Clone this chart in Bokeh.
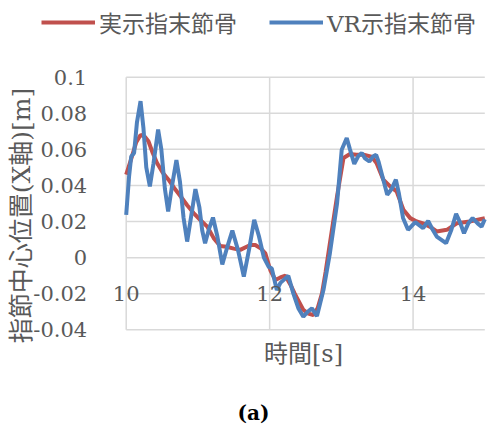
import math
from bokeh.plotting import figure
from bokeh.models import FixedTicker, Legend, LegendItem, Label, Range1d
from bokeh.embed import file_html
from bokeh.resources import INLINE

# ---- data ----
red_t = [10.00, 10.08, 10.14, 10.20, 10.26, 10.31, 10.37, 10.43, 10.51, 10.59, 10.68, 10.76,
         10.85, 10.94, 11.03, 11.13, 11.22, 11.31, 11.40, 11.50, 11.59, 11.73, 11.80, 11.88,
         11.94, 12.01, 12.08, 12.15, 12.22, 12.29, 12.35, 12.47, 12.54, 12.61, 12.67, 12.73,
         12.78, 12.84, 12.94, 13.03, 13.12, 13.21, 13.31, 13.42, 13.49, 13.585, 13.68, 13.77,
         13.865, 13.96, 14.05, 14.14, 14.24, 14.33, 14.47, 14.61, 14.79, 15.00]
red_v = [0.046, 0.056, 0.064, 0.068, 0.067, 0.0645, 0.058, 0.0524, 0.047, 0.0432, 0.038, 0.0339,
         0.029, 0.0247, 0.021, 0.0172, 0.0108, 0.0065, 0.006, 0.005, 0.0043, 0.007, 0.007, 0.005,
         0.0024, -0.007, -0.0124, -0.011, -0.010, -0.015, -0.020, -0.029, -0.031, -0.0318, -0.028, -0.0198,
         -0.008, 0.008, 0.034, 0.0552, 0.0574, 0.057, 0.057, 0.056, 0.0524, 0.0432, 0.0395, 0.0367,
         0.0265, 0.0219, 0.020, 0.019, 0.017, 0.0145, 0.0154, 0.019, 0.020, 0.0219]

blue_t = [10.00, 10.04, 10.07, 10.11, 10.15, 10.20, 10.24, 10.28, 10.33, 10.38, 10.445, 10.49,
          10.54, 10.585, 10.64, 10.70, 10.75, 10.80, 10.85, 10.91, 10.965, 11.02, 11.06, 11.10,
          11.155, 11.21, 11.27, 11.34, 11.41, 11.48, 11.56, 11.64, 11.72, 11.785, 11.85, 11.92,
          11.985, 12.03, 12.10, 12.15, 12.26, 12.33, 12.40, 12.47, 12.53, 12.59, 12.66, 12.70,
          12.75, 12.84, 12.94, 13.005, 13.075, 13.12, 13.18, 13.24, 13.285, 13.33, 13.39, 13.44,
          13.485, 13.52, 13.56, 13.64, 13.70, 13.76, 13.80, 13.86, 13.93, 14.03, 14.14, 14.21,
          14.28, 14.33, 14.46, 14.53, 14.60, 14.65, 14.71, 14.77, 14.83, 14.90, 14.955, 15.00]
blue_v = [0.0237, 0.045, 0.056, 0.058, 0.075, 0.0867, 0.072, 0.050, 0.0395, 0.052, 0.071, 0.060,
          0.038, 0.0256, 0.040, 0.054, 0.042, 0.022, 0.0089, 0.024, 0.038, 0.028, 0.015, 0.008,
          0.016, 0.0222, 0.012, -0.0038, 0.006, 0.015, 0.004, -0.0105, 0.006, 0.021, 0.012, 0.000,
          -0.005, -0.006, -0.018, -0.014, -0.0100, -0.0198, -0.028, -0.0328, -0.030, -0.0281, -0.0324, -0.026,
          -0.018, 0.0024, 0.030, 0.0598, 0.0663, 0.060, 0.0520, 0.0565, 0.058, 0.055, 0.0533, 0.056,
          0.057, 0.053, 0.0469, 0.0348, 0.038, 0.0432, 0.036, 0.022, 0.0154, 0.0197, 0.0163, 0.0204,
          0.015, 0.0117, 0.008, 0.015, 0.0243, 0.020, 0.0135, 0.019, 0.0219, 0.019, 0.0172, 0.0213]

series_names = ["実示指末節骨", "VR示指末節骨"]
series_colors = ["#C0504D", "#4F81BD"]
y_ticks = [-0.04, -0.02, 0, 0.02, 0.04, 0.06, 0.08, 0.1]
y_tick_labels = ["-0.04", "-0.02", "0", "0.02", "0.04", "0.06", "0.08", "0.1"]
x_ticks = [10, 12, 14]
x_tick_labels = ["10", "12", "14"]
x_title = "時間[s]"
y_title = "指節中心位置(X軸)[m]"
caption = "(a)"

FONT = "'DejaVu Serif', 'Noto Sans CJK JP'"
TXT = "#595959"
GRID = "#d9d9d9"

# ---- layout (pixels inside the canvas) ----
W, H = 487, 432
X0, X1 = 10.0, 15.0          # data span of the plotting area
Y0, Y1 = -0.04, 0.1
PL, PR = 125.7, 484.3        # plot area left/right (px)
PT, PB = 76.7, 329.3         # plot area top/bottom (px)
sx = (PR - PL) / (X1 - X0)
sy = (PB - PT) / (Y1 - Y0)
xr = Range1d(X0 - PL / sx, X1 + (W - PR) / sx)
yr = Range1d(Y0 - (H - PB) / sy, Y1 + PT / sy)

def px_to_x(px):
    return xr.start + px / sx

def py_to_y(py):
    return yr.end - py / sy

p = figure(width=W, height=H, output_backend="svg", toolbar_location=None,
           x_range=xr, y_range=yr, min_border=0)
p.min_border_left = p.min_border_right = p.min_border_top = p.min_border_bottom = 0
p.outline_line_color = None
p.background_fill_color = "white"
p.grid.visible = False

# grid lines of the plotting area
p.segment(x0=x_ticks, y0=[Y0] * len(x_ticks), x1=x_ticks, y1=[Y1] * len(x_ticks),
          line_color=GRID, line_width=1.5)
p.segment(x0=[X0] * len(y_ticks), y0=y_ticks, x1=[X1] * len(y_ticks), y1=y_ticks,
          line_color=GRID, line_width=1.5)

# value axis (labels left of the plotting area)
ya = p.yaxis[0]
ya.fixed_location = X0
ya.ticker = FixedTicker(ticks=y_ticks)
ya.major_label_overrides = {t: l for t, l in zip(y_ticks, y_tick_labels)}
ya.axis_line_color = None
ya.major_tick_line_color = None
ya.minor_tick_line_color = None
ya.major_label_standoff = 33
ya.major_label_text_font = FONT
ya.major_label_text_font_size = "21px"
ya.major_label_text_color = TXT

# time axis: labels where the horizontal axis crosses y = 0
xa = p.xaxis[0]
xa.fixed_location = 0
xa.ticker = FixedTicker(ticks=x_ticks)
xa.major_label_overrides = {t: l for t, l in zip(x_ticks, x_tick_labels)}
xa.axis_line_color = None
xa.major_tick_line_color = None
xa.minor_tick_line_color = None
xa.major_label_standoff = 22
xa.major_label_text_font = FONT
xa.major_label_text_font_size = "21px"
xa.major_label_text_color = TXT

# series
r_red = p.line(red_t, red_v, line_color=series_colors[0], line_width=4)
r_blue = p.line(blue_t, blue_v, line_color=series_colors[1], line_width=4)

# titles
p.add_layout(Label(x=px_to_x(21), y=py_to_y(215), text=y_title, angle=math.pi / 2,
                   text_align="center", text_baseline="middle",
                   text_font=FONT, text_font_size="25px", text_color=TXT))
p.add_layout(Label(x=px_to_x(303), y=py_to_y(PB + 24), text=x_title,
                   text_align="center", text_baseline="middle",
                   text_font=FONT, text_font_size="24px", text_color=TXT))
p.add_layout(Label(x=px_to_x(253), y=py_to_y(412), text=caption,
                   text_align="center", text_baseline="middle",
                   text_font="DejaVu Serif", text_font_size="20px", text_font_style="bold",
                   text_color="black"))

legend = Legend(items=[LegendItem(label=series_names[0], renderers=[r_red]),
                       LegendItem(label=series_names[1], renderers=[r_blue])],
                orientation="horizontal", location=(41, H - 25 - 14),
                glyph_width=54, glyph_height=20, label_standoff=4, spacing=32,
                padding=0, margin=0, border_line_color=None, background_fill_alpha=0,
                label_text_font=FONT, label_text_font_size="23px", label_text_color=TXT)
p.add_layout(legend, "center")

html = file_html(p, INLINE)
open("out.html", "w").write(html)
